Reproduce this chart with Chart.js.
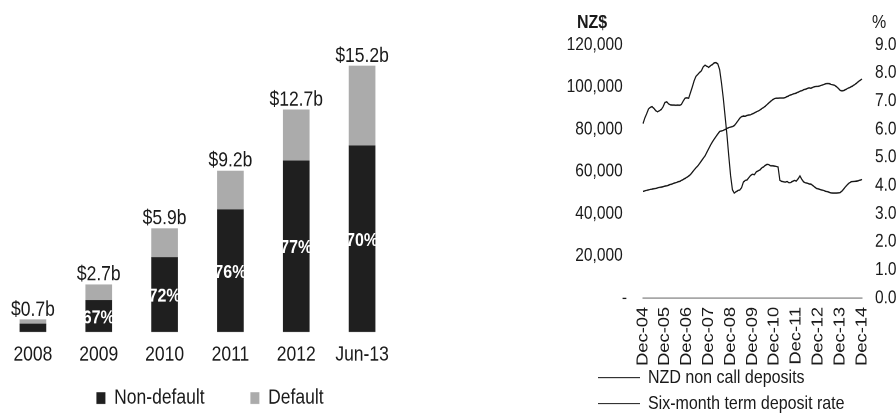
<!DOCTYPE html>
<html><head><meta charset="utf-8">
<script src="https://cdn.jsdelivr.net/npm/chart.js@4.4.1/dist/chart.umd.min.js"></script>
<style>
html,body{margin:0;padding:0;background:#fff;overflow:hidden;width:896px;height:419px;}
#wrap{position:absolute;left:0;top:0;width:896px;height:355px;transform:scaleY(1.1803);transform-origin:0 0;}
.box{position:absolute;top:0;}
.ttl{position:absolute;font-family:"Liberation Sans",Arial,sans-serif;font-size:16px;line-height:16px;color:#1a1a1a;white-space:nowrap;}
</style></head><body>
<div id="wrap">
 <div class="box" style="left:0;width:420px;height:356px"><canvas id="barChart" width="420" height="356" style="width:420px;height:356px"></canvas></div>
 <div class="box" style="left:540px;width:362px;height:360px"><canvas id="lineChart" width="362" height="360" style="width:362px;height:360px"></canvas></div>
 <div class="ttl" style="left:577px;top:10.6px;font-weight:bold">NZ$</div>
 <div class="ttl" style="left:872px;top:10.6px">%</div>
</div>
<script>
// ---------- Left chart data ----------
const barCategories = ['2008', '2009', '2010', '2011', '2012', 'Jun-13'];
const nonDefault = [0.45, 1.81, 4.25, 6.99, 9.78, 10.64];
const defaultVals = [0.25, 0.89, 1.65, 2.21, 2.92, 4.56];
const totalLabels = ['$0.7b', '$2.7b', '$5.9b', '$9.2b', '$12.7b', '$15.2b'];
const shareLabels = ['', '67%', '72%', '76%', '77%', '70%'];
const barSeriesNames = ['Non-default', 'Default'];

// ---------- Right chart data ----------
const monthNames = ['Jan','Feb','Mar','Apr','May','Jun','Jul','Aug','Sep','Oct','Nov','Dec'];
const xTickLabels = ['Dec-04','Dec-05','Dec-06','Dec-07','Dec-08','Dec-09','Dec-10','Dec-11','Dec-12','Dec-13','Dec-14'];
const lineSeriesNames = ['NZD non call deposits', 'Six-month term deposit rate'];
const leftTicks = [0, 20000, 40000, 60000, 80000, 100000, 120000];
const rightTicks = [0, 1, 2, 3, 4, 5, 6, 7, 8, 9];
const deposits = [
 50600,50800,51000,51300,51500,51600,51800,52000,52200,52400,
 52600,52800,53000,53200,53500,53800,54100,54400,54700,55000,
 55300,55700,56200,56700,57200,57800,58500,59600,60700,61700,
 62600,63800,65000,66200,67400,69100,70800,72500,74000,75300,
 76600,77800,78900,79200,79500,79900,80400,80800,81000,81300,
 81700,82800,84000,85200,86000,86300,86200,86500,86800,86900,
 87300,87700,88200,88600,89100,89700,90300,90900,91700,92500,
 93300,94000,94500,94700,94700,94800,94800,94800,95100,95500,
 95900,96300,96600,96900,97200,97600,98000,98300,98700,99000,
 99300,99600,99400,99900,100100,100300,100400,100600,100900,101200,
 101500,101700,101600,101300,101100,100800,100200,99400,98500,98200,
 98400,98800,99300,99700,100100,100600,101200,101800,102600,103200,
 103800];
const rates = [
 6.20,6.40,6.55,6.72,6.78,6.80,6.74,6.66,6.62,6.66,
 6.70,6.80,6.95,6.98,6.90,6.87,6.86,6.86,6.85,6.86,
 6.85,6.88,7.00,7.10,7.12,7.10,7.30,7.50,7.72,7.88,
 7.95,8.02,8.08,8.22,8.28,8.24,8.20,8.26,8.30,8.36,
 8.37,8.32,8.12,7.65,7.10,6.45,5.80,5.05,4.35,3.85,
 3.73,3.78,3.82,3.84,3.92,4.12,4.18,4.20,4.28,4.36,
 4.40,4.38,4.48,4.52,4.55,4.62,4.66,4.72,4.75,4.74,
 4.70,4.70,4.69,4.68,4.66,4.18,4.15,4.13,4.12,4.14,
 4.10,4.11,4.15,4.18,4.16,4.24,4.34,4.22,4.13,4.10,
 4.08,4.06,4.05,4.00,3.95,3.90,3.88,3.86,3.84,3.82,
 3.80,3.78,3.76,3.74,3.73,3.73,3.73,3.74,3.75,3.80,
 3.88,3.96,4.03,4.09,4.13,4.14,4.15,4.16,4.17,4.19,
 4.22];

const monthLabels = [];
for (let i = 0; i < deposits.length; i++) {
  const m = (11 + i) % 12;
  const y = 4 + Math.floor((11 + i) / 12);
  monthLabels.push(monthNames[m] + '-' + String(y).padStart(2, '0'));
}

const FONT = '"Liberation Sans", Arial, sans-serif';
Chart.defaults.font.family = FONT;
Chart.defaults.color = '#1a1a1a';
// let tick labels extend outside their (deliberately narrow) scale boxes
Chart.Scale.prototype._computeLabelArea = function () { return undefined; };

const barLabels = {
  id: 'barLabels',
  afterDatasetsDraw(chart) {
    const ctx = chart.ctx;
    const m0 = chart.getDatasetMeta(0), m1 = chart.getDatasetMeta(1);
    ctx.save();
    ctx.textAlign = 'center';
    ctx.textBaseline = 'middle';
    m1.data.forEach((bar, i) => {
      ctx.font = '17.5px ' + FONT;
      ctx.fillStyle = '#1a1a1a';
      ctx.fillText(totalLabels[i], bar.x, bar.y - 8.5);
      const nd = m0.data[i];
      if (shareLabels[i]) {
        ctx.font = 'bold 16px ' + FONT;
        ctx.fillStyle = '#ffffff';
        ctx.fillText(shareLabels[i], nd.x, (nd.y + nd.base) / 2 + 1.5);
      }
    });
    ctx.restore();
  }
};

new Chart(document.getElementById('barChart'), {
  type: 'bar',
  data: {
    labels: barCategories,
    datasets: [
      { label: barSeriesNames[0], data: nonDefault, backgroundColor: '#1f1f1f', borderWidth: 0, barThickness: 26, stack: 's' },
      { label: barSeriesNames[1], data: defaultVals, backgroundColor: '#ababab', borderWidth: 0, barThickness: 26, stack: 's' }
    ]
  },
  options: {
    responsive: false, animation: false, devicePixelRatio: 2,
    layout: { padding: { top: 10, left: 0, right: 0, bottom: 0 } },
    plugins: {
      legend: { position: 'bottom', labels: { boxWidth: 9, boxHeight: 10, padding: 45.75, font: { size: 17.5 }, color: '#1a1a1a' } },
      tooltip: { enabled: false }
    },
    scales: {
      x: { stacked: true, grid: { display: false, drawTicks: false }, border: { display: false },
           ticks: { padding: 9, maxRotation: 0, font: { size: 17.5 }, color: '#1a1a1a' },
           afterFit: s => { s.height = 1.45; } },
      y: { stacked: true, position: 'right', min: 0, max: 18.3,
           grid: { display: false, drawTicks: false }, border: { display: false },
           ticks: { display: false }, afterFit: s => { s.width = 25; } }
    }
  },
  plugins: [barLabels]
});

new Chart(document.getElementById('lineChart'), {
  type: 'line',
  data: {
    labels: monthLabels,
    datasets: [
      { label: lineSeriesNames[0], data: deposits, yAxisID: 'y', borderColor: '#151515', backgroundColor: '#151515', borderWidth: 1.2, pointRadius: 0, tension: 0, fill: false },
      { label: lineSeriesNames[1], data: rates, yAxisID: 'y1', borderColor: '#151515', backgroundColor: '#151515', borderWidth: 1.2, pointRadius: 0, tension: 0, fill: false }
    ]
  },
  options: {
    responsive: false, animation: false, devicePixelRatio: 2,
    layout: { padding: { top: 38, left: 52, right: 0, bottom: 0 } },
    plugins: {
      legend: { position: 'bottom', align: 'start',
        labels: { boxWidth: 42, boxHeight: 1, padding: 6, font: { size: 16 }, color: '#1a1a1a',
          generateLabels(chart) {
            return Chart.defaults.plugins.legend.labels.generateLabels(chart).map(it => Object.assign({}, it, { lineWidth: 0, fillStyle: '#333' }));
          } } },
      tooltip: { enabled: false }
    },
    scales: {
      x: { grid: { display: false, drawTicks: false }, border: { display: true, color: '#8a8a8a', width: 1, dash: [1, 1] },
           ticks: { autoSkip: false, minRotation: 90, maxRotation: 90, padding: 7.5, font: { size: 15.5 }, color: '#1a1a1a',
             callback(v) { const l = this.getLabelForValue(v); return xTickLabels.includes(l) ? l : ''; } },
           afterFit: s => { s.height = 53.5; } },
      y: { position: 'left', min: leftTicks[0], max: leftTicks[leftTicks.length - 1],
           afterBuildTicks: s => { s.ticks = leftTicks.map(v => ({ value: v })); },
           ticks: { padding: 16, font: { size: 15.5 }, color: '#1a1a1a',
             callback: v => v === 0 ? '-' : v.toLocaleString('en-US') + ' ' },
           grid: { display: false, drawTicks: false }, border: { display: false },
           afterFit: s => { s.width = 51; } },
      y1: { position: 'right', min: rightTicks[0], max: rightTicks[rightTicks.length - 1],
            afterBuildTicks: s => { s.ticks = rightTicks.map(v => ({ value: v })); },
            ticks: { padding: 13, font: { size: 15.5 }, color: '#1a1a1a', callback: v => v.toFixed(2) },
            grid: { display: false, drawTicks: false }, border: { display: false },
            afterFit: s => { s.width = 40; } }
    }
  }
});
</script>
</body></html>
